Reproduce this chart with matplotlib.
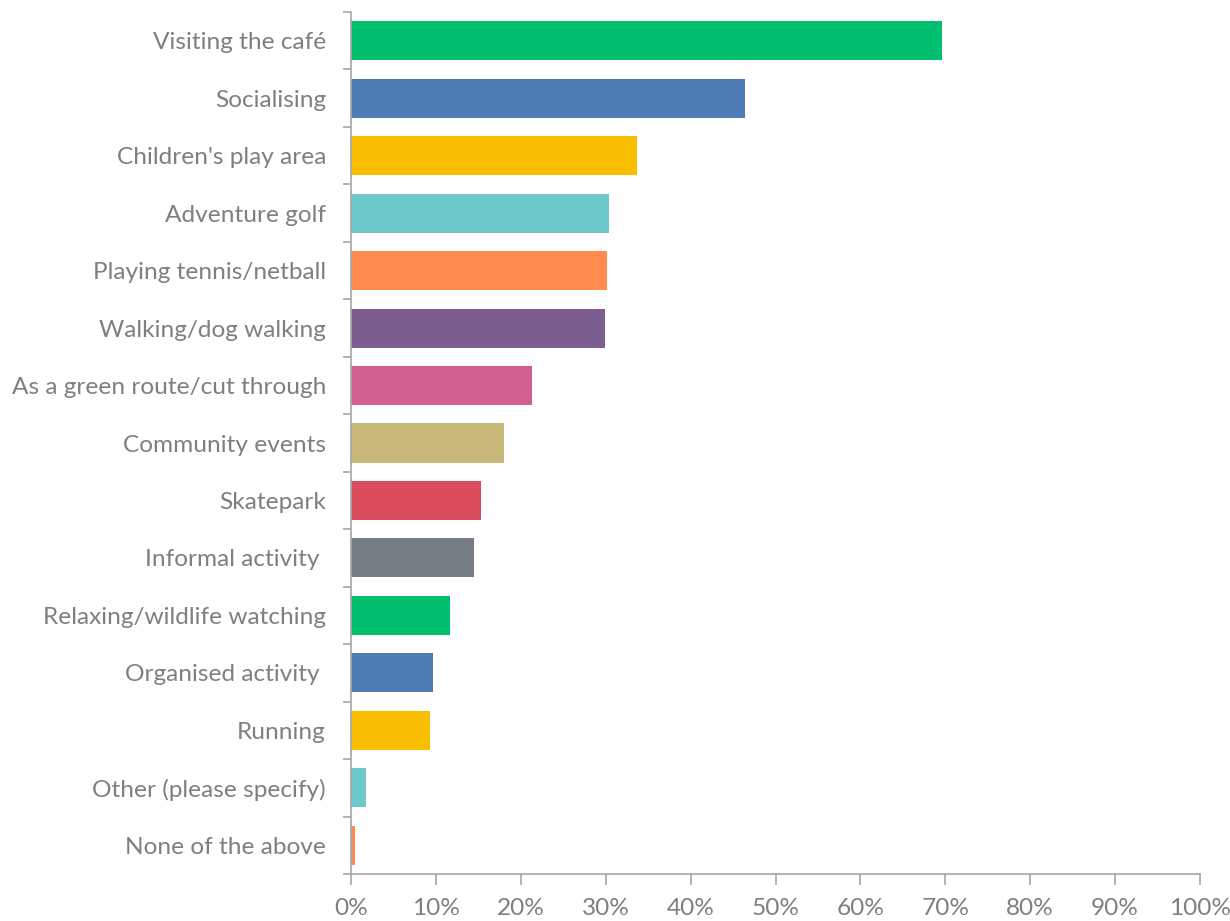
import numpy as np
import matplotlib.pyplot as plt
from matplotlib.ticker import FixedLocator, PercentFormatter

categories = ["Visiting the café", "Socialising", "Children's play area", "Adventure golf",
              "Playing tennis/netball", "Walking/dog walking", "As a green route/cut through",
              "Community events", "Skatepark", "Informal activity ", "Relaxing/wildlife watching",
              "Organised activity ", "Running", "Other (please specify)", "None of the above"]
values = [69.6, 46.4, 33.7, 30.4, 30.1, 29.9, 21.3, 18.0, 15.3, 14.5, 11.7, 9.7, 9.25, 1.8, 0.47]

palette = ["#00BF6F", "#507CB6", "#F9BE00", "#6BC8CD", "#FF8B4F",
           "#7D5E90", "#D25F90", "#C7B879", "#DB4D5C", "#767D85"]
colors = [palette[i % len(palette)] for i in range(len(values))]

plt.rcParams['font.family'] = ['Lato', 'DejaVu Sans']
text_col = "#7F7F7F"
axis_col = "#A6A6A6"

fig = plt.figure(figsize=(12.3, 9.21), dpi=100)
ax = fig.add_axes([351/1230, 1 - 874/921, (1200-351)/1230, (874-12)/921])

y = np.arange(len(values))
ax.barh(y, values, height=0.68, color=colors)
ax.set_ylim(len(values) - 0.5, -0.5)
ax.set_xlim(0, 100)

ax.set_yticks(y)
ax.set_yticklabels(categories, fontsize=17.6, color=text_col)
ax.yaxis.set_minor_locator(FixedLocator(np.arange(-0.5, len(values), 1)))
ax.tick_params(axis='y', which='major', length=0, pad=18)
ax.tick_params(axis='y', which='minor', length=6, width=1.2, color=axis_col)

ax.set_xticks(np.arange(0, 101, 10))
ax.xaxis.set_major_formatter(PercentFormatter(decimals=0))
ax.tick_params(axis='x', length=8, width=1.2, color=axis_col, labelsize=17.6,
               labelcolor=text_col, pad=9)

for s in ['top', 'right']:
    ax.spines[s].set_visible(False)
for s in ['left', 'bottom']:
    ax.spines[s].set_color(axis_col)
    ax.spines[s].set_linewidth(1.2)

fig.savefig("out.png", dpi=100)
